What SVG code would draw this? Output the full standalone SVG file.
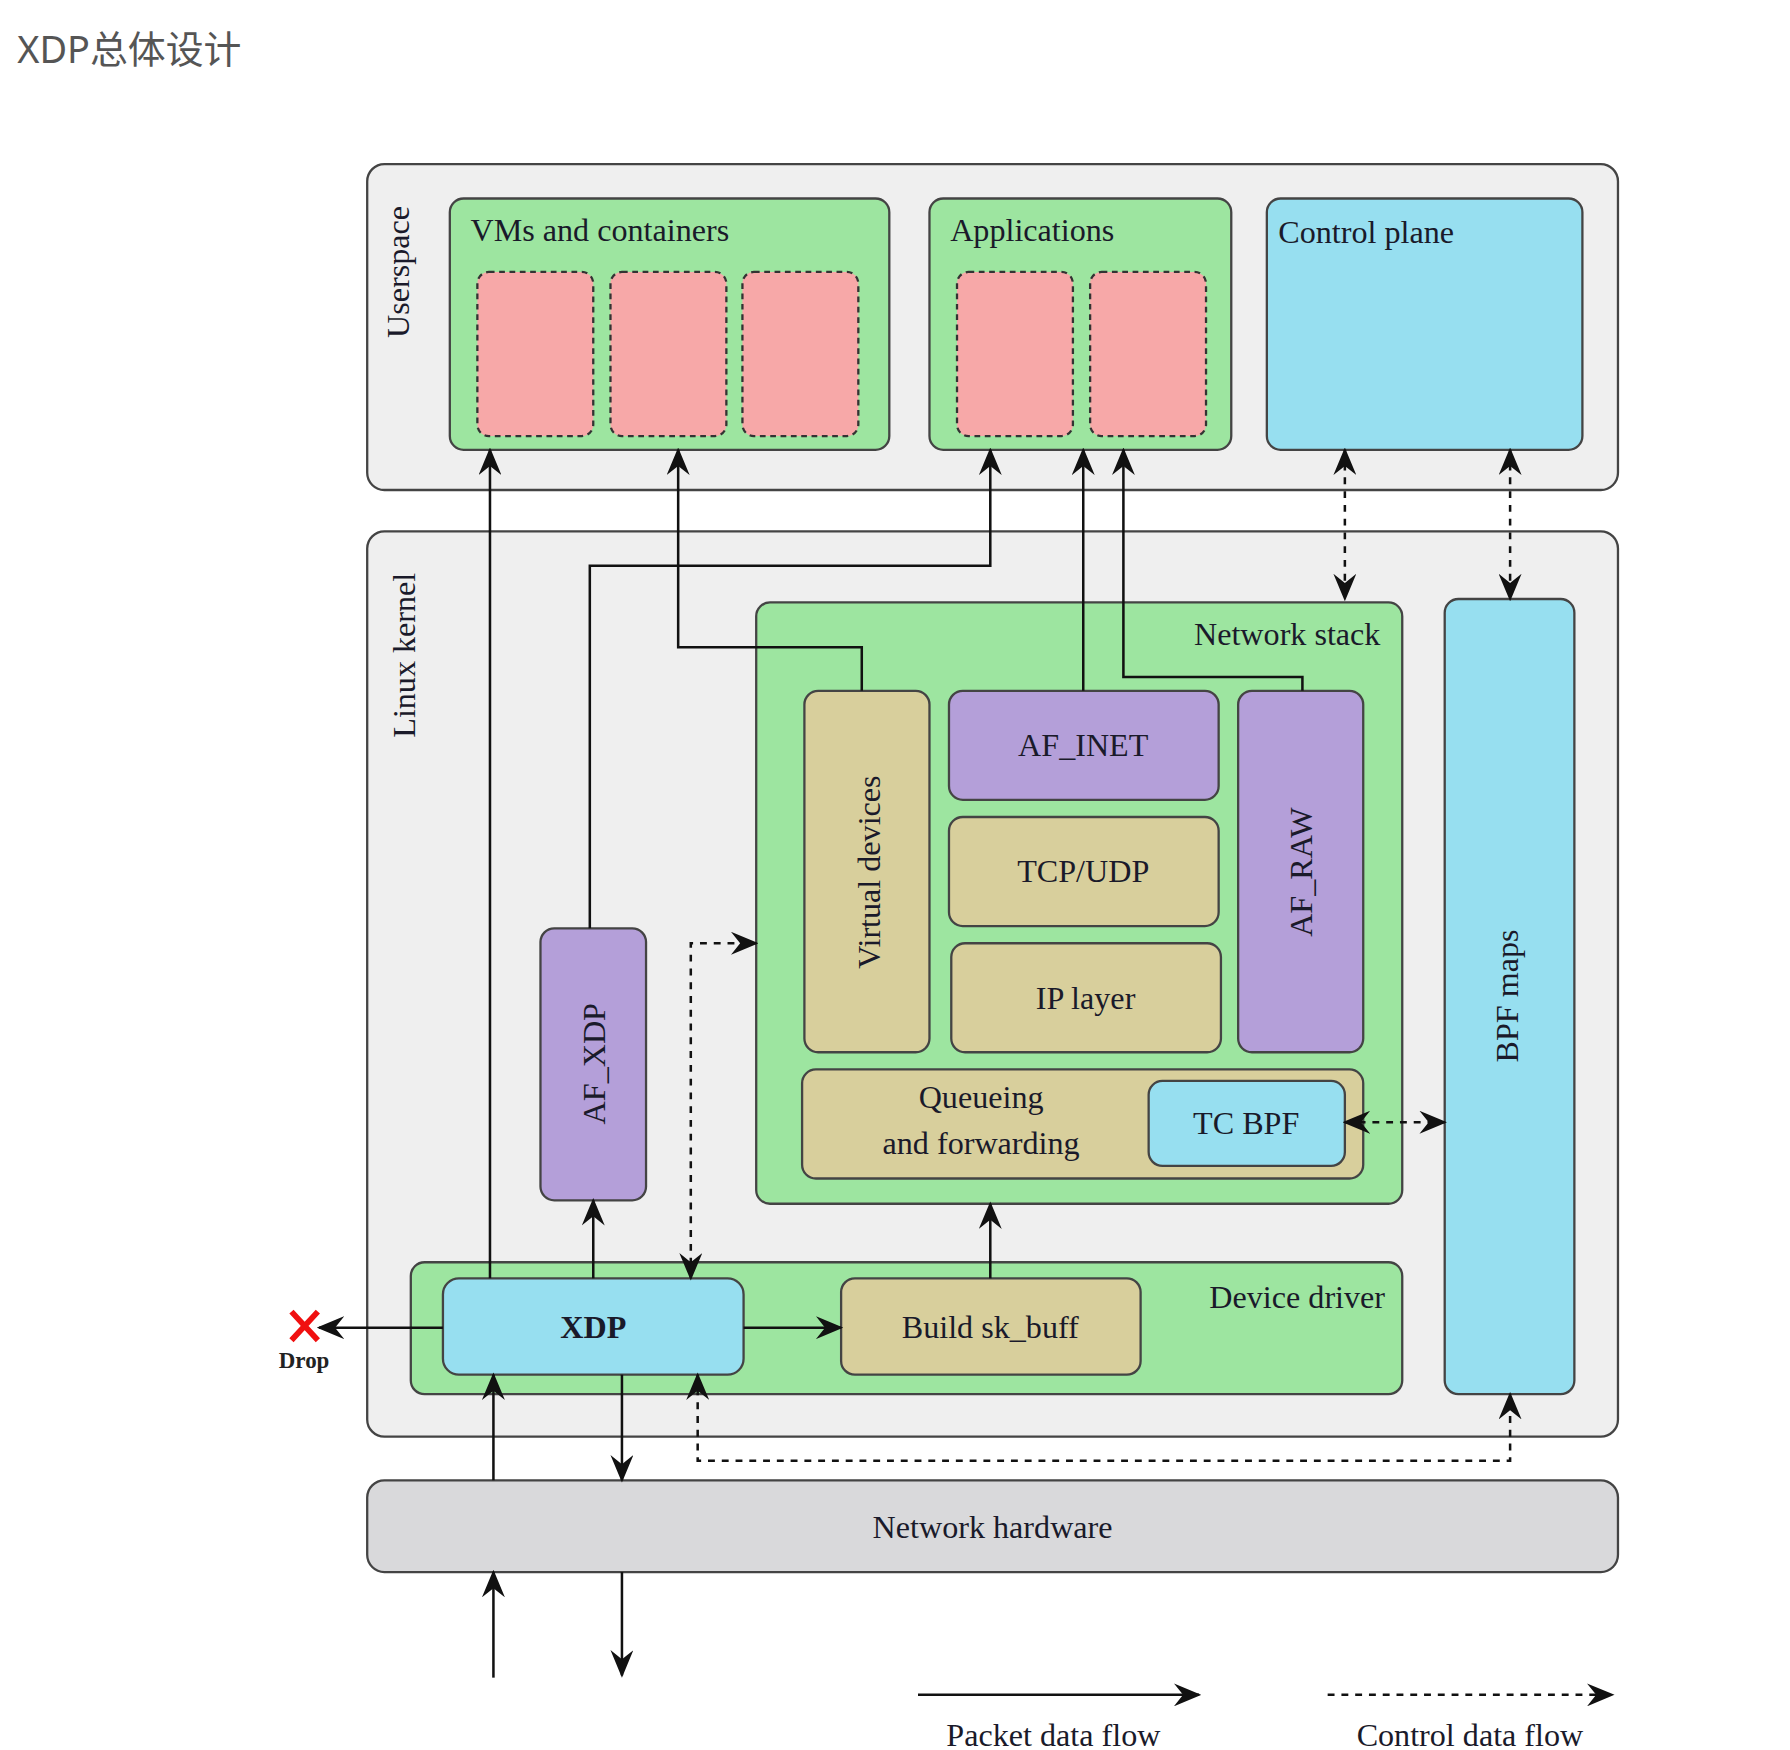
<svg xmlns="http://www.w3.org/2000/svg" width="1790" height="1750" viewBox="0 0 1790 1750">
<style>
.t{font-family:"Liberation Serif","DejaVu Serif",serif;font-size:28px;fill:#1a1a2a}
.m{text-anchor:middle}
.box{stroke:#444;stroke-width:2}
.grey{fill:#efefef}
.green{fill:#9de5a0}
.pink{fill:#f7a8a8;stroke:#333;stroke-width:2;stroke-dasharray:5,4}
.blue{fill:#97dff0}
.tan{fill:#d8cf9c}
.purple{fill:#b49fd9}
.hw{fill:#d9d9db}
.c{fill:none;stroke:#111;stroke-width:2.2}
.d{stroke-dasharray:6,6}
</style>
<defs>
<marker id="a" viewBox="0 0 12 10" refX="11" refY="5" markerWidth="12" markerHeight="10" markerUnits="userSpaceOnUse" orient="auto-start-reverse"><path d="M0,0 L12,5 L0,10 L4,5 z" fill="#111"/></marker>
<marker id="b" viewBox="0 0 12 10" refX="11" refY="5" markerWidth="24" markerHeight="20" markerUnits="userSpaceOnUse" orient="auto-start-reverse"><path d="M0,0 L12,5 L0,10 L4,5 z" fill="#111"/></marker>
</defs>
<rect width="1790" height="1750" fill="#fff"/>
<g transform="scale(1.1475)">
<text x="15" y="55" style="font-family:'Noto Sans','Noto Sans CJK SC',sans-serif;font-size:33px;fill:#555">XDP总体设计</text>
<g id="userspace"><rect class="box grey" x="320" y="143" width="1090" height="284" rx="15"/><text class="t m" transform="translate(356,237) rotate(-90)">Userspace</text></g>
<g id="vms"><rect class="box green" x="392" y="173" width="383" height="219" rx="12"/><text class="t" x="410" y="210">VMs and containers</text>
<rect class="pink" x="416" y="237" width="101" height="143" rx="10"/><rect class="pink" x="532" y="237" width="101" height="143" rx="10"/><rect class="pink" x="647" y="237" width="101" height="143" rx="10"/></g>
<g id="apps"><rect class="box green" x="810" y="173" width="263" height="219" rx="12"/><text class="t" x="828" y="210">Applications</text>
<rect class="pink" x="834" y="237" width="101" height="143" rx="10"/><rect class="pink" x="950" y="237" width="101" height="143" rx="10"/></g>
<g id="control"><rect class="box blue" x="1104" y="173" width="275" height="219" rx="12"/><text class="t" x="1114" y="212">Control plane</text></g>
<g id="kernel"><rect class="box grey" x="320" y="463" width="1090" height="789" rx="15"/><text class="t m" transform="translate(362,571) rotate(-90)">Linux kernel</text></g>
<g id="netstack"><rect class="box green" x="659" y="525" width="563" height="524" rx="12"/><text class="t" x="1203" y="562" text-anchor="end">Network stack</text></g>
<g id="vdev"><rect class="box tan" x="701" y="602" width="109" height="315" rx="12"/><text class="t m" transform="translate(767,760) rotate(-90)">Virtual devices</text></g>
<g id="afinet"><rect class="box purple" x="827" y="602" width="235" height="95" rx="12"/><text class="t m" x="944" y="659">AF_INET</text></g>
<g id="tcp"><rect class="box tan" x="827" y="712" width="235" height="95" rx="12"/><text class="t m" x="944" y="769">TCP/UDP</text></g>
<g id="ip"><rect class="box tan" x="829" y="822" width="235" height="95" rx="12"/><text class="t m" x="946" y="879">IP layer</text></g>
<g id="afraw"><rect class="box purple" x="1079" y="602" width="109" height="315" rx="12"/><text class="t m" transform="translate(1143,760) rotate(-90)">AF_RAW</text></g>
<g id="queue"><rect class="box tan" x="699" y="932" width="489" height="95" rx="12"/><text class="t m" x="855" y="966">Queueing</text><text class="t m" x="855" y="1006">and forwarding</text></g>
<g id="tcbpf"><rect class="box blue" x="1001" y="942" width="171" height="74" rx="12"/><text class="t m" x="1086" y="988">TC BPF</text></g>
<g id="bpfmaps"><rect class="box blue" x="1259" y="522" width="113" height="693" rx="12"/><text class="t m" transform="translate(1323,868) rotate(-90)">BPF maps</text></g>
<g id="afxdp"><rect class="box purple" x="471" y="809" width="92" height="237" rx="12"/><text class="t m" transform="translate(527,927) rotate(-90)">AF_XDP</text></g>
<g id="driver"><rect class="box green" x="358" y="1100" width="864" height="115" rx="12"/><text class="t" x="1207" y="1140" text-anchor="end">Device driver</text></g>
<g id="xdp"><rect class="box blue" x="386" y="1114" width="262" height="84" rx="14"/><text class="t m" x="517" y="1166" font-weight="bold">XDP</text></g>
<g id="sk"><rect class="box tan" x="733" y="1114" width="261" height="84" rx="12"/><text class="t m" x="863" y="1166">Build sk_buff</text></g>
<g id="hw"><rect class="box hw" x="320" y="1290" width="1090" height="80" rx="15"/><text class="t m" x="865" y="1340">Network hardware</text></g>
<g id="drop"><path d="M254,1143 L277,1168 M277,1143 L254,1168" stroke="#f01010" stroke-width="5"/><text x="265" y="1192" text-anchor="middle" style="font-family:'Liberation Serif',serif;font-size:20px;font-weight:bold;fill:#222">Drop</text></g>
<g id="connectors">
<path class="c" d="M427,1114 V392" marker-end="url(#b)"/>
<path class="c" d="M751,602 V564 H591 V392" marker-end="url(#b)"/>
<path class="c" d="M514,809 V493 H863 V392" marker-end="url(#b)"/>
<path class="c" d="M944,602 V392" marker-end="url(#b)"/>
<path class="c" d="M1135,602 V590 H979 V392" marker-end="url(#b)"/>
<path class="c" d="M517,1114 V1046" marker-end="url(#b)"/>
<path class="c" d="M863,1114 V1049" marker-end="url(#b)"/>
<path class="c" d="M648,1157 H733" marker-end="url(#b)"/>
<path class="c" d="M386,1157 H278" marker-end="url(#b)"/>
<path class="c" d="M430,1290 V1198" marker-end="url(#b)"/>
<path class="c" d="M542,1198 V1290" marker-end="url(#b)"/>
<path class="c" d="M430,1462 V1370" marker-end="url(#b)"/>
<path class="c" d="M542,1370 V1460" marker-end="url(#b)"/>
<path class="c d" d="M1172,392 V522" marker-start="url(#b)" marker-end="url(#b)"/>
<path class="c d" d="M1316,392 V522" marker-start="url(#b)" marker-end="url(#b)"/>
<path class="c d" d="M1172,978 H1259" marker-start="url(#b)" marker-end="url(#b)"/>
<path class="c d" d="M602,1114 V822 H659" marker-start="url(#b)" marker-end="url(#b)"/>
<path class="c d" d="M608,1198 V1273 H1316 V1215" marker-start="url(#b)" marker-end="url(#b)"/>
<path class="c" d="M800,1477 H1045" marker-end="url(#b)"/>
<path class="c d" d="M1157,1477 H1405" marker-end="url(#b)"/>
</g>
<text class="t m" x="918" y="1522">Packet data flow</text>
<text class="t m" x="1281" y="1522">Control data flow</text>
</g>
</svg>
